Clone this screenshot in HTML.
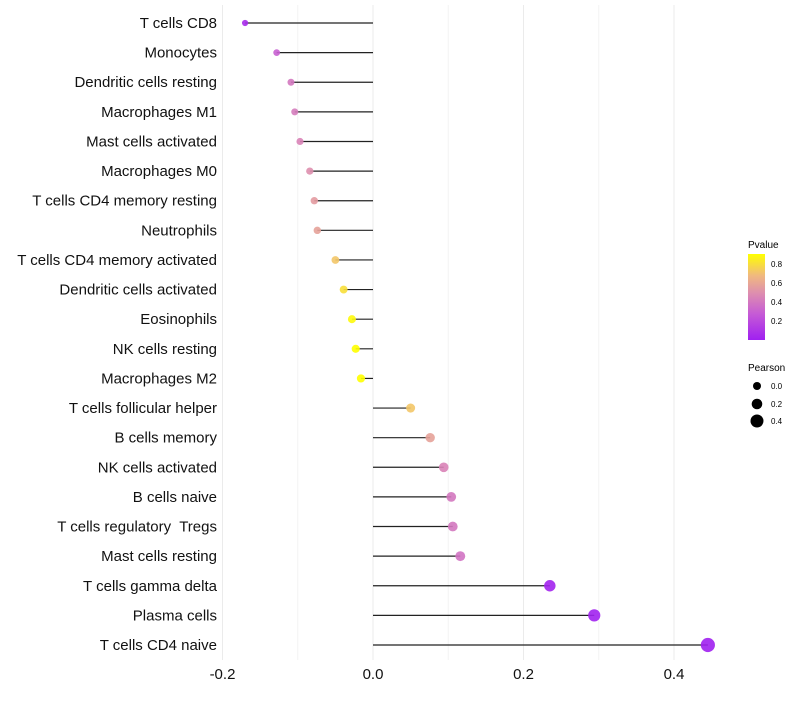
<!DOCTYPE html>
<html><head><meta charset="utf-8"><style>
body{margin:0;background:#fff;font-family:"Liberation Sans",sans-serif}
text{white-space:pre}
</style></head><body>
<svg id="chart" width="800" height="700" xmlns="http://www.w3.org/2000/svg">
<defs><linearGradient id="pg" x1="0" y1="1" x2="0" y2="0">
<stop offset="0" stop-color="#a020f0"/><stop offset="0.3" stop-color="#c55ad6"/><stop offset="0.55" stop-color="#de8fae"/><stop offset="0.75" stop-color="#f0b97f"/><stop offset="1" stop-color="#ffff00"/></linearGradient></defs>
<g id="grid"></g>
<g id="marks"></g>
<g id="labels"></g>
<g id="xt"></g>
<g>
<text x="748" y="248" font-size="10">Pvalue</text>
<rect x="748" y="254" width="17" height="86" fill="url(#pg)"/>
<text x="771" y="267" font-size="8">0.8</text>
<text x="771" y="286" font-size="8">0.6</text>
<text x="771" y="305" font-size="8">0.4</text>
<text x="771" y="324" font-size="8">0.2</text>
</g>
<g>
<text x="748" y="371" font-size="10">Pearson</text>
<circle cx="757" cy="386" r="4" fill="#000"/>
<circle cx="757" cy="404" r="5.3" fill="#000"/>
<circle cx="757" cy="421" r="6.5" fill="#000"/>
<text x="771" y="389" font-size="8">0.0</text>
<text x="771" y="407" font-size="8">0.2</text>
<text x="771" y="424" font-size="8">0.4</text>
</g>
</svg>
<script>
const categories=["T cells CD8","Monocytes","Dendritic cells resting","Macrophages M1","Mast cells activated","Macrophages M0","T cells CD4 memory resting","Neutrophils","T cells CD4 memory activated","Dendritic cells activated","Eosinophils","NK cells resting","Macrophages M2","T cells follicular helper","B cells memory","NK cells activated","B cells naive","T cells regulatory  Tregs","Mast cells resting","T cells gamma delta","Plasma cells","T cells CD4 naive"];
const pearson=[-0.170,-0.128,-0.109,-0.104,-0.097,-0.084,-0.078,-0.074,-0.050,-0.039,-0.028,-0.023,-0.016,0.050,0.076,0.094,0.104,0.106,0.116,0.235,0.294,0.445];
const pvalues=[0.05,0.3,0.4,0.42,0.45,0.5,0.55,0.58,0.72,0.8,0.88,0.9,0.92,0.72,0.58,0.45,0.4,0.4,0.38,0.02,0.01,0.001];
const xTicks=[-0.2,0,0.2,0.4];
const xTickLabels=["-0.2","0.0","0.2","0.4"];
const NS="http://www.w3.org/2000/svg";
const X=v=>373+v*752.5;
const Y=i=>23+i*(645-23)/21;
const R=v=>Math.max(1.8,4.2+6.5*v);
const stops=[[0,[160,32,240]],[0.27,[197,90,214]],[0.5,[222,143,174]],[0.68,[240,185,127]],[0.9,[255,255,0]]];
function col(p){if(p>=0.9)return"rgb(255,255,0)";for(let k=0;k<stops.length-1;k++){const a=stops[k],b=stops[k+1];if(p<=b[0]){const t=(p-a[0])/(b[0]-a[0]);return"rgb("+a[1].map((c,j)=>Math.round(c+(b[1][j]-c)*t)).join(",")+")";}}}
function mk(t,a,parent){const e=document.createElementNS(NS,t);for(const k in a)e.setAttribute(k,a[k]);document.getElementById(parent).appendChild(e);return e;}
[-0.2,-0.1,0,0.1,0.2,0.3,0.4].forEach(v=>{const major=Math.abs(Math.round(v*10))%2===0;const l=mk("line",{x1:X(v),x2:X(v),y1:5,y2:660,stroke:major?"#ebebeb":"#f3f3f3","stroke-width":1},"grid");

});
xTicks.forEach((v,i)=>{const t=mk("text",{x:X(v),y:679,"font-size":15,"text-anchor":"middle",fill:"#111"},"xt");t.textContent=xTickLabels[i];

});
categories.forEach((c,i)=>{
const l=mk("line",{x1:X(0),x2:X(pearson[i]),y1:Y(i),y2:Y(i),stroke:"#222","stroke-width":1.2},"marks");


const d=mk("circle",{cx:X(pearson[i]),cy:Y(i),r:R(pearson[i]),fill:col(pvalues[i]),"fill-opacity":0.9},"marks");


const t=mk("text",{x:217,y:Y(i)+5,"font-size":15,"text-anchor":"end",fill:"#111"},"labels");t.textContent=c;


});
</script>
</body></html>
